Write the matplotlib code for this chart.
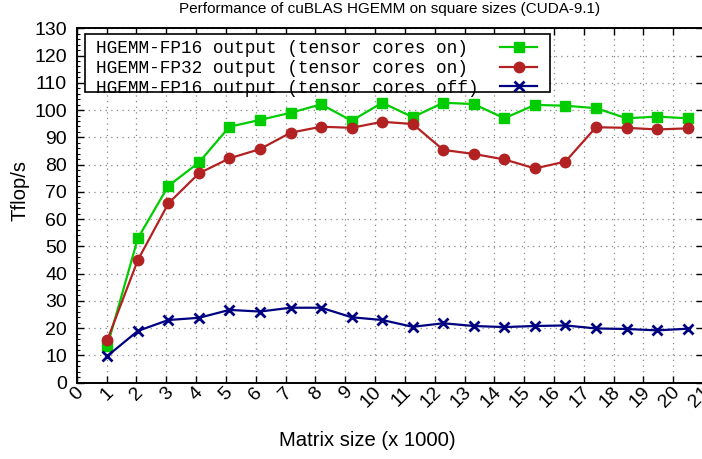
import matplotlib
matplotlib.use('Agg')
import matplotlib.pyplot as plt
from matplotlib.patches import Rectangle
from matplotlib.ticker import MultipleLocator
from matplotlib.font_manager import FontProperties
import matplotlib.transforms as mtransforms

plt.rcParams['font.family'] = ['Liberation Sans', 'DejaVu Sans']

# ---- data ----
matrix_size = [1.024, 2.048, 3.072, 4.096, 5.12, 6.144, 7.168, 8.192, 9.216, 10.24,
               11.264, 12.288, 13.312, 14.336, 15.36, 16.384, 17.408, 18.432, 19.456, 20.48]
fp16_on = [13.5, 53.0, 72.2, 80.8, 93.9, 96.4, 99.0, 102.1, 96.1, 102.7,
           97.4, 102.7, 102.2, 97.0, 101.9, 101.6, 100.7, 97.0, 97.6, 97.0]
fp32_on = [15.7, 45.0, 65.8, 76.8, 82.3, 85.7, 91.7, 93.9, 93.5, 95.7,
           94.9, 85.4, 83.9, 81.9, 78.6, 81.1, 93.7, 93.5, 92.9, 93.3]
fp16_off = [9.8, 19.0, 23.0, 23.8, 26.7, 26.1, 27.5, 27.5, 24.0, 23.0,
            20.5, 21.8, 20.8, 20.4, 20.8, 21.0, 19.9, 19.7, 19.2, 19.8]
series_labels = ["HGEMM-FP16 output (tensor cores on) ",
                 "HGEMM-FP32 output (tensor cores on) ",
                 "HGEMM-FP16 output (tensor cores off)"]
x_tick_labels = [str(i) for i in range(22)]
y_tick_labels = [str(v) for v in range(0, 131, 10)]

W, H = 702, 459
fig = plt.figure(figsize=(W / 100, H / 100), dpi=100)
ax = fig.add_axes([76.8 / W, 1 - 382.7 / H, (703.1 - 76.8) / W, (382.7 - 28.3) / H])

l1, = ax.plot(matrix_size, fp16_on, color='#00cc00', lw=1.6, marker='s', ms=7.5, zorder=3)
l2, = ax.plot(matrix_size, fp32_on, color='#b22222', lw=1.6, marker='o', ms=7.5, zorder=3)
l3, = ax.plot(matrix_size, fp16_off, color='#000080', lw=1.6, marker='x', ms=7, mew=2, zorder=3)

ax.set_xlim(0, 21)
ax.set_ylim(0, 130)
ax.set_xticks(range(22))
ax.set_xticklabels(x_tick_labels)
ax.set_yticks(range(0, 131, 10))
ax.set_yticklabels(y_tick_labels)
ax.yaxis.set_minor_locator(MultipleLocator(2))

ax.tick_params(which='major', direction='in', top=True, right=True, length=5,
               width=1.0, labelsize=14, pad=7)
ax.tick_params(which='minor', direction='in', left=True, right=False, length=2.5, width=0.8)
ax.tick_params(axis='x', pad=5)

offset = mtransforms.ScaledTranslation(4 / 100, 0, fig.dpi_scale_trans)
for lbl in ax.get_xticklabels():
    lbl.set_rotation(45)
    lbl.set_ha('right')
    lbl.set_va('center')
    lbl.set_rotation_mode('anchor')
    lbl.set_transform(lbl.get_transform() + offset)

for sp in ax.spines.values():
    sp.set_linewidth(1.4)

ax.grid(True, which='major', color='#888888', linestyle=(0, (1, 3.5)), linewidth=0.9)
ax.set_axisbelow(True)

# legend box (decoration)
box = Rectangle((84.5 / W, 1 - 92 / H), (550 - 84.5) / W, (92 - 34) / H,
                transform=fig.transFigure, facecolor='white', edgecolor='black',
                lw=1.2, zorder=4)
ax.add_patch(box)

leg = ax.legend([l1, l2, l3], series_labels, loc='upper left',
                bbox_to_anchor=(96 / W, 1 - 40 / H), bbox_transform=fig.transFigure,
                frameon=False, markerfirst=False, borderpad=0, labelspacing=0.16,
                handlelength=2.1, handletextpad=1.2, borderaxespad=0,
                prop=FontProperties(family='Liberation Mono', size=12.8))
leg.set_zorder(5)

fig.text(390 / W, 1 - 9 / H, "Performance of cuBLAS HGEMM on square sizes (CUDA-9.1)",
         ha='center', va='center', fontsize=11)
fig.text(367.5 / W, 1 - 441 / H, "Matrix size (x 1000)", ha='center', va='center', fontsize=14.6)
fig.text(20 / W, 1 - 191 / H, "Tflop/s", ha='center', va='center', rotation=90, fontsize=14.6)

fig.savefig('out.png', dpi=100)
